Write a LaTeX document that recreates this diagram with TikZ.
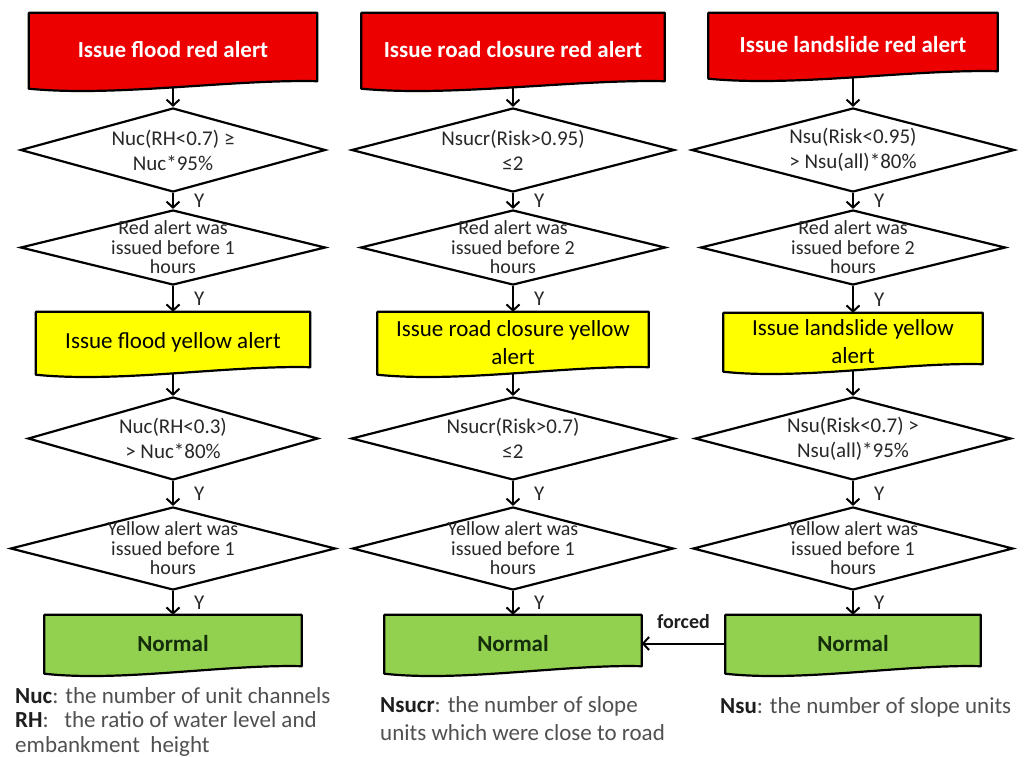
\documentclass[tikz,border=0pt]{standalone}
\usepackage{fontspec}
\setmainfont{Carlito}
\usepackage{tikz}
\usetikzlibrary{arrows.meta}
\usetikzlibrary{backgrounds}
\usetikzlibrary{shapes.geometric}
\usetikzlibrary{calc}

\definecolor{alertred}{RGB}{236,0,0}
\definecolor{alertyellow}{RGB}{255,255,0}
\definecolor{normalgreen}{RGB}{146,208,80}
\definecolor{condtext}{RGB}{40,40,40}
\definecolor{notetext}{RGB}{80,80,80}
\definecolor{notebold}{RGB}{30,30,30}
\definecolor{normaltext}{RGB}{20,45,10}

\begin{document}
\begin{tikzpicture}[x=1pt,y=-1pt,
	alertbox/.style={rectangle,inner sep=0pt,align=center,font=\fontsize{23}{28}\selectfont},
	redbox/.style={alertbox,text=white,font=\bfseries\fontsize{23}{28}\selectfont},
	yellowbox/.style={alertbox,text=black},
	greenbox/.style={alertbox,text=normaltext,font=\bfseries\fontsize{23}{28}\selectfont},
	cond/.style={diamond,draw=black,line width=2.2pt,fill=white,shape aspect=3.6,inner sep=-10pt,
	             align=center,text=condtext,font=\fontsize{21}{25}\selectfont},
	check/.style={cond,font=\fontsize{20}{19.5}\selectfont},
	ylab/.style={right=20pt,inner sep=0pt,text=condtext,font=\fontsize{21}{21}\selectfont},
	forcelab/.style={above=14pt,inner sep=0pt,text=notebold,font=\bfseries\fontsize{20}{20}\selectfont},
	note/.style={anchor=north west,inner sep=0pt,align=left,text=notetext,font=\fontsize{23}{24.5}\selectfont}]
	\useasboundingbox (0,0) rectangle (1025,756);

	% flood
	\node[redbox,minimum width=288pt,minimum height=74pt] (fred) at (173,50) {Issue flood red alert};
	\node[cond,minimum width=305pt,minimum height=84pt] (fq1) at (173,150) {Nuc(RH<0.7) ≥\\Nuc*95\%};
	\node[check,minimum width=305pt,minimum height=75pt] (fq2) at (173,247.5) {Red alert was\\issued before 1\\hours};
	\node[yellowbox,minimum width=274pt,minimum height=61pt] (fyel) at (173,342.5) {Issue flood yellow alert};
	\node[cond,minimum width=290pt,minimum height=83pt] (fq3) at (173,438.5) {Nuc(RH<0.3)\\> Nuc*80\%};
	\node[check,minimum width=325pt,minimum height=83pt] (fq4) at (173,548.5) {Yellow alert was\\issued before 1\\hours};
	\node[greenbox,minimum width=257pt,minimum height=57pt] (fnorm) at (173,643.5) {Normal};

	% road closure
	\node[redbox,minimum width=303pt,minimum height=74pt] (rred) at (513,50) {Issue road closure red alert};
	\node[cond,minimum width=323pt,minimum height=84pt] (rq1) at (513,150) {Nsucr(Risk>0.95)\\≤2};
	\node[check,minimum width=305pt,minimum height=75pt] (rq2) at (513,247.5) {Red alert was\\issued before 2\\hours};
	\node[yellowbox,minimum width=271pt,minimum height=61pt] (ryel) at (513,342.5) {Issue road closure yellow\\alert};
	\node[cond,minimum width=323pt,minimum height=83pt] (rq3) at (513,438.5) {Nsucr(Risk>0.7)\\≤2};
	\node[check,minimum width=321pt,minimum height=83pt] (rq4) at (513,548.5) {Yellow alert was\\issued before 1\\hours};
	\node[greenbox,minimum width=257pt,minimum height=57pt] (rnorm) at (513,643.5) {Normal};

	% landslide
	\node[redbox,minimum width=289pt,minimum height=64pt] (lred) at (853,45) {Issue landslide red alert};
	\node[cond,minimum width=323pt,minimum height=84pt] (lq1) at (853,150) {Nsu(Risk<0.95)\\> Nsu(all)*80\%};
	\node[check,minimum width=305pt,minimum height=75pt] (lq2) at (853,247.5) {Red alert was\\issued before 2\\hours};
	\node[yellowbox,minimum width=259pt,minimum height=57pt] (lyel) at (853,341.5) {Issue landslide yellow\\alert};
	\node[cond,minimum width=316pt,minimum height=83pt] (lq3) at (853,438.5) {Nsu(Risk<0.7) >\\Nsu(all)*95\%};
	\node[check,minimum width=320pt,minimum height=83pt] (lq4) at (853,548.5) {Yellow alert was\\issued before 1\\hours};
	\node[greenbox,minimum width=255pt,minimum height=57pt] (lnorm) at (853,643.5) {Normal};

	% document shapes with wavy bottom
	\begin{scope}[on background layer]
		\foreach \n/\c in {fred/alertred,rred/alertred,lred/alertred,
		                   fyel/alertyellow,ryel/alertyellow,lyel/alertyellow,
		                   fnorm/normalgreen,rnorm/normalgreen,lnorm/normalgreen}
			\filldraw[fill=\c,draw=black,line width=2.2pt,line join=round]
				(\n.north west) -- (\n.north east) -- ([yshift=6pt]\n.south east)
				.. controls ($(\n.south east)!0.3!(\n.south west)+(0pt,8pt)$)
				and ($(\n.south east)!0.7!(\n.south west)+(0pt,-10pt)$)
				.. ([yshift=-1.5pt]\n.south west) -- cycle;
	\end{scope}

	\begin{scope}[>={Straight Barb[length=6pt,width=13pt]},
	              every edge/.style={draw=black,line width=2pt,->}]
		\path (fred) edge (fq1);
		\path (fq1) edge node[ylab] (fy1) {Y} (fq2);
		\path (fq2) edge node[ylab] (fy2) {Y} (fyel);
		\path (fyel) edge (fq3);
		\path (fq3) edge node[ylab] (fy3) {Y} (fq4);
		\path (fq4) edge node[ylab] (fy4) {Y} (fnorm);
		\path (rred) edge (rq1);
		\path (rq1) edge node[ylab] (ry1) {Y} (rq2);
		\path (rq2) edge node[ylab] (ry2) {Y} (ryel);
		\path (ryel) edge (rq3);
		\path (rq3) edge node[ylab] (ry3) {Y} (rq4);
		\path (rq4) edge node[ylab] (ry4) {Y} (rnorm);
		\path (lred) edge (lq1);
		\path (lq1) edge node[ylab] (ly1) {Y} (lq2);
		\path (lq2) edge node[ylab] (ly2) {Y} (lyel);
		\path (lyel) edge (lq3);
		\path (lq3) edge node[ylab] (ly3) {Y} (lq4);
		\path (lq4) edge node[ylab] (ly4) {Y} (lnorm);
		\path (lnorm) edge node[forcelab] (forced) {forced} (rnorm);
	\end{scope}

	% abbreviations
	\node[note] (nucnote) at (15,687) {{\bfseries\color{notebold}Nuc}: the number of unit channels\\
		{\bfseries\color{notebold}RH}:\ \ \ the ratio of water level and\\embankment\ \ height};
	\node[note,font=\fontsize{23}{28}\selectfont] (nsucrnote) at (380,696) {{\bfseries\color{notebold}Nsucr}: the number of slope\\
		units which were close to road};
	\node[note] (nsunote) at (720,697) {{\bfseries\color{notebold}Nsu}: the number of slope units};
\end{tikzpicture}
\end{document}
